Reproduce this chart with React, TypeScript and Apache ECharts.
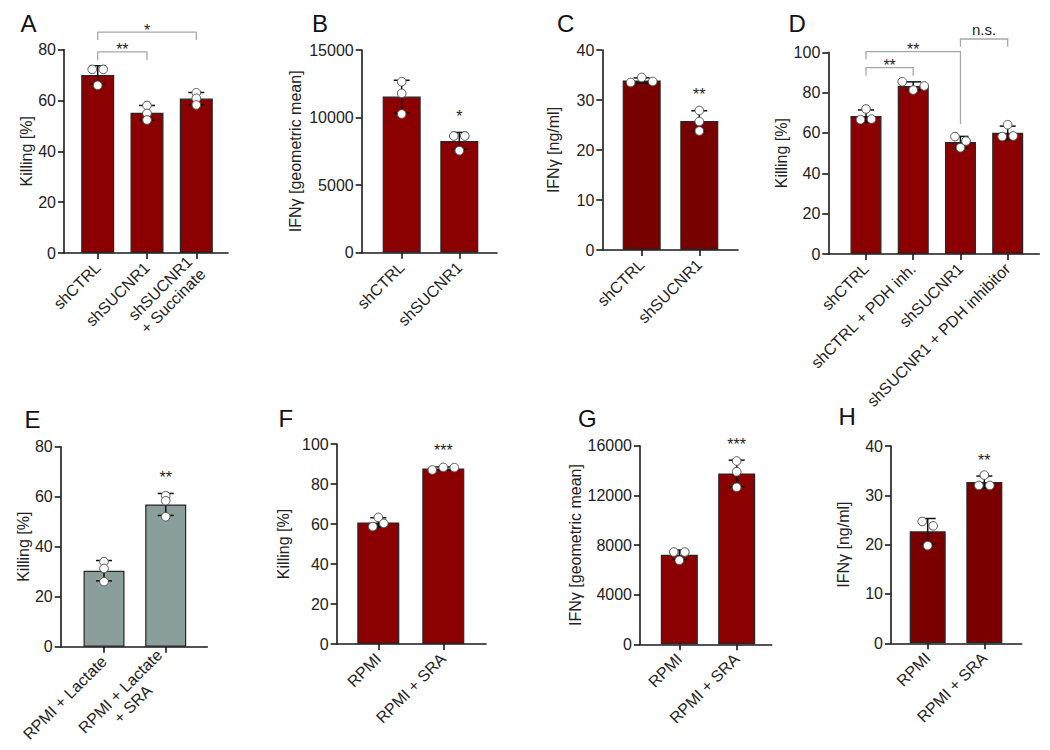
import React, { useEffect, useRef } from "react";
import * as echarts from "echarts";

const FONT = "'Liberation Sans', Arial, Helvetica, sans-serif";

// ---------- Panel A ----------
const categoriesA = ["shCTRL", "shSUCNR1", "shSUCNR1\n+ Succinate"];
const meansA = [70.0, 55.1, 60.7];
const sdsA = [3.6, 2.9, 2.4];
const pointsA = [[72.2, 72.2, 65.9], [58.0, 54.9, 52.3], [63.0, 60.8, 58.2]];
const sigA = ["", "", ""];
const bracketsA = [[0, 1, 79.1, 75.9, 75.9], [0, 2, 86.8, 83.7, 83.7]];
const bracketLabelsA = ["**", "*"];
const yTicksA = [0, 20, 40, 60, 80];

// ---------- Panel B ----------
const categoriesB = ["shCTRL", "shSUCNR1"];
const meansB = [11550, 8270];
const sdsB = [1210, 630];
const pointsB = [[12654, 11795, 10264], [8636, 8636, 7548]];
const sigB = ["", "*"];
const bracketsB: number[][] = [];
const bracketLabelsB: string[] = [];
const yTicksB = [0, 5000, 10000, 15000];

// ---------- Panel C ----------
const categoriesC = ["shCTRL", "shSUCNR1"];
const meansC = [33.9, 25.8];
const sdsC = [0.53, 2.05];
const pointsC = [[33.5, 34.5, 33.7], [27.9, 25.7, 23.8]];
const sigC = ["", "**"];
const bracketsC: number[][] = [];
const bracketLabelsC: string[] = [];
const yTicksC = [0, 10, 20, 30, 40];

// ---------- Panel D ----------
const categoriesD = ["shCTRL", "shCTRL + PDH inh.", "shSUCNR1", "shSUCNR1 + PDH inhibitor"];
const meansD = [68.4, 83.3, 55.5, 60.1];
const sdsD = [3.0, 2.05, 2.8, 3.3];
const pointsD = [[71.9, 66.6, 66.9], [85.4, 81.3, 83.3], [58.2, 56.0, 52.7], [64.1, 58.2, 58.5]];
const sigD = ["", "", "", ""];
const bracketsD = [[0, 1, 92.4, 88.4, 88.4], [0, 2, 100.3, 96.5, 64.5], [2, 3, 106.6, 102.8, 102.8]];
const bracketLabelsD = ["**", "**", "n.s."];
const yTicksD = [0, 20, 40, 60, 80, 100];

// ---------- Panel E ----------
const categoriesE = ["RPMI + Lactate", "RPMI + Lactate\n+ SRA"];
const meansE = [30.4, 56.9];
const sdsE = [4.07, 4.39];
const pointsE = [[34.0, 31.3, 26.0], [60.4, 58.4, 52.0]];
const sigE = ["", "**"];
const bracketsE: number[][] = [];
const bracketLabelsE: string[] = [];
const yTicksE = [0, 20, 40, 60, 80];

// ---------- Panel F ----------
const categoriesF = ["RPMI", "RPMI + SRA"];
const meansF = [60.8, 87.8];
const sdsF = [2.33, 0.72];
const pointsF = [[58.7, 63.3, 60.3], [87.0, 88.3, 88.2]];
const sigF = ["", "***"];
const bracketsF: number[][] = [];
const bracketLabelsF: string[] = [];
const yTicksF = [0, 20, 40, 60, 80, 100];

// ---------- Panel G ----------
const categoriesG = ["RPMI", "RPMI + SRA"];
const meansG = [7210, 13770];
const sdsG = [386, 1066];
const pointsG = [[7436, 7436, 6767], [14767, 13905, 12648]];
const sigG = ["", "***"];
const bracketsG: number[][] = [];
const bracketLabelsG: string[] = [];
const yTicksG = [0, 4000, 8000, 12000, 16000];

// ---------- Panel H ----------
const categoriesH = ["RPMI", "RPMI + SRA"];
const meansH = [22.7, 32.7];
const sdsH = [2.6, 1.21];
const pointsH = [[24.7, 23.8, 19.8], [34.1, 32.0, 32.0]];
const sigH = ["", "**"];
const bracketsH: number[][] = [];
const bracketLabelsH: string[] = [];
const yTicksH = [0, 10, 20, 30, 40];

type PanelData = {
  cats: string[]; means: number[]; sds: number[]; pts: number[][]; sig: string[];
  brackets: number[][]; bracketLabels: string[]; yTicks: number[]; yName: string; letter: string;
};

const panelData: PanelData[] = [
  { cats: categoriesA, means: meansA, sds: sdsA, pts: pointsA, sig: sigA, brackets: bracketsA, bracketLabels: bracketLabelsA, yTicks: yTicksA, yName: "Killing [%]", letter: "A" },
  { cats: categoriesB, means: meansB, sds: sdsB, pts: pointsB, sig: sigB, brackets: bracketsB, bracketLabels: bracketLabelsB, yTicks: yTicksB, yName: "IFNγ [geometric mean]", letter: "B" },
  { cats: categoriesC, means: meansC, sds: sdsC, pts: pointsC, sig: sigC, brackets: bracketsC, bracketLabels: bracketLabelsC, yTicks: yTicksC, yName: "IFNγ [ng/ml]", letter: "C" },
  { cats: categoriesD, means: meansD, sds: sdsD, pts: pointsD, sig: sigD, brackets: bracketsD, bracketLabels: bracketLabelsD, yTicks: yTicksD, yName: "Killing [%]", letter: "D" },
  { cats: categoriesE, means: meansE, sds: sdsE, pts: pointsE, sig: sigE, brackets: bracketsE, bracketLabels: bracketLabelsE, yTicks: yTicksE, yName: "Killing [%]", letter: "E" },
  { cats: categoriesF, means: meansF, sds: sdsF, pts: pointsF, sig: sigF, brackets: bracketsF, bracketLabels: bracketLabelsF, yTicks: yTicksF, yName: "Killing [%]", letter: "F" },
  { cats: categoriesG, means: meansG, sds: sdsG, pts: pointsG, sig: sigG, brackets: bracketsG, bracketLabels: bracketLabelsG, yTicks: yTicksG, yName: "IFNγ [geometric mean]", letter: "G" },
  { cats: categoriesH, means: meansH, sds: sdsH, pts: pointsH, sig: sigH, brackets: bracketsH, bracketLabels: bracketLabelsH, yTicks: yTicksH, yName: "IFNγ [ng/ml]", letter: "H" },
];

// Layout / style per panel (positions in px)
type PanelLayout = {
  left: number; top: number; width: number; height: number; xMin: number; xMax: number;
  barWidth: number; color: string; nameGap: number; letterX: number; letterY: number;
};

const panelLayout: PanelLayout[] = [
  { left: 64, top: 49.5, width: 164, height: 203.5, xMin: -0.684, xMax: 2.643, barWidth: 33, color: "#8b0000", nameGap: 28, letterX: 20.5, letterY: 11.5 },
  { left: 361.7, top: 50, width: 135.3, height: 202.7, xMin: -0.694, xMax: 1.654, barWidth: 38, color: "#8b0000", nameGap: 58.5, letterX: 312, letterY: 11.5 },
  { left: 602.3, top: 50, width: 135.7, height: 200, xMin: -0.684, xMax: 1.672, barWidth: 38, color: "#770000", nameGap: 41, letterX: 557, letterY: 11.5 },
  { left: 828.3, top: 52.3, width: 211, height: 201.7, xMin: -0.798, xMax: 3.669, barWidth: 31, color: "#8b0000", nameGap: 31, letterX: 788.5, letterY: 11.5 },
  { left: 60.7, top: 446.7, width: 146.6, height: 200, xMin: -0.702, xMax: 1.674, barWidth: 41, color: "#8a9e9b", nameGap: 27.5, letterX: 24.5, letterY: 407.5 },
  { left: 336.7, top: 444, width: 149.3, height: 200, xMin: -0.64, xMax: 1.657, barWidth: 42, color: "#8b0000", nameGap: 45, letterX: 278.5, letterY: 406 },
  { left: 640, top: 445.7, width: 131.7, height: 198.6, xMin: -0.685, xMax: 1.61, barWidth: 37, color: "#8b0000", nameGap: 57, letterX: 578, letterY: 406 },
  { left: 891, top: 446, width: 130.7, height: 197.3, xMin: -0.648, xMax: 1.66, barWidth: 36, color: "#7a0000", nameGap: 39.5, letterX: 838.5, letterY: 404 },
];

const AXIS_COLOR = "#1a1a1a";
const TEXT_COLOR = "#222222";
const ROW_THRESH = 4.8;
const POINT_SPACING = 11;

function errorRender(sig: string[]) {
  return (params: any, api: any) => {
    const i = api.value(0);
    const m = api.value(1);
    const s = api.value(2);
    const top = api.coord([i, m + s]);
    const bot = api.coord([i, m - s]);
    const x = top[0];
    const hw = 8;
    const st = { stroke: "#111", lineWidth: 1.5 };
    const children: any[] = [
      { type: "line", shape: { x1: x, y1: top[1], x2: x, y2: bot[1] }, style: st },
      { type: "line", shape: { x1: x - hw, y1: top[1], x2: x + hw, y2: top[1] }, style: st },
      { type: "line", shape: { x1: x - hw, y1: bot[1], x2: x + hw, y2: bot[1] }, style: st },
    ];
    const label = sig[params.dataIndex];
    if (label) {
      children.push({
        type: "text",
        x,
        y: top[1] - 16,
        style: { text: label, fill: TEXT_COLOR, fontSize: 16, fontFamily: FONT, align: "center", verticalAlign: "middle" },
      });
    }
    return { type: "group", children };
  };
}

function pointsRender(pts: number[][]) {
  return (_params: any, api: any) => {
    const cat = api.value(0);
    const j = api.value(2);
    const group = pts[cat];
    const pys = group.map((v) => api.coord([cat, v])[1]);
    const cx = api.coord([cat, 0])[0];
    const order = pys.map((_, k) => k).sort((a, b) => pys[a] - pys[b]);
    const rows: number[][] = [];
    let cur: number[] = [];
    order.forEach((k, n) => {
      if (n > 0 && pys[k] - pys[order[n - 1]] >= ROW_THRESH) {
        rows.push(cur);
        cur = [];
      }
      cur.push(k);
    });
    rows.push(cur);
    const row = rows.find((r) => r.includes(j)) || [j];
    const sorted = [...row].sort((a, b) => a - b);
    const pos = sorted.indexOf(j);
    const dx = (pos - (sorted.length - 1) / 2) * POINT_SPACING;
    return {
      type: "circle",
      shape: { cx: cx + dx, cy: pys[j], r: 4.3 },
      style: { fill: "#ffffff", stroke: "#555555", lineWidth: 1 },
    };
  };
}

function bracketRender(labels: string[]) {
  return (params: any, api: any) => {
    const x1 = api.value(0);
    const x2 = api.value(1);
    const yt = api.value(2);
    const yl = api.value(3);
    const yr = api.value(4);
    const pTL = api.coord([x1, yt]);
    const pTR = api.coord([x2, yt]);
    const pL = api.coord([x1, yl]);
    const pR = api.coord([x2, yr]);
    const label = labels[params.dataIndex];
    const isStar = /^\*+$/.test(label);
    return {
      type: "group",
      children: [
        {
          type: "polyline",
          shape: { points: [pL, pTL, pTR, pR] },
          style: { stroke: "#a8a8a8", lineWidth: 1.3, fill: "none" },
        },
        {
          type: "text",
          x: (pTL[0] + pTR[0]) / 2,
          y: pTL[1] - (isStar ? 2 : 9),
          style: { text: label, fill: TEXT_COLOR, fontSize: isStar ? 16 : 15, fontFamily: FONT, align: "center", verticalAlign: "middle" },
        },
      ],
    };
  };
}

function buildOption() {
  const grid: any[] = [];
  const xAxis: any[] = [];
  const yAxis: any[] = [];
  const series: any[] = [];
  const title: any[] = [];

  panelData.forEach((d, k) => {
    const L = panelLayout[k];
    const catIdx = d.cats.map((_, i) => i);
    const yMax = d.yTicks[d.yTicks.length - 1];
    const yStep = d.yTicks[1] - d.yTicks[0];
    grid.push({ left: L.left, top: L.top, width: L.width, height: L.height, containLabel: false, outerBoundsMode: "none" });
    xAxis.push({
      type: "value",
      gridIndex: k,
      min: L.xMin,
      max: L.xMax,
      axisLine: { show: true, onZero: false, lineStyle: { color: AXIS_COLOR, width: 1.6 } },
      axisTick: { show: true, length: 6, customValues: catIdx, lineStyle: { color: AXIS_COLOR, width: 1.6 } },
      axisLabel: {
        show: true,
        customValues: catIdx,
        formatter: (v: number) => {
          const s = d.cats[Math.round(v)] ?? "";
          return s.split("\n").map((line) => `{c|${line}}`).join("\n");
        },
        rotate: 45,
        fontSize: 16,
        color: TEXT_COLOR,
        fontFamily: FONT,
        margin: 12,
        lineHeight: 18,
        rich: {
          c: { align: "center", fontSize: 16, color: TEXT_COLOR, fontFamily: FONT, lineHeight: 18 },
        },
      },
      splitLine: { show: false },
    });
    yAxis.push({
      type: "value",
      gridIndex: k,
      min: 0,
      max: yMax,
      interval: yStep,
      axisLine: { show: true, onZero: false, lineStyle: { color: AXIS_COLOR, width: 1.6 } },
      axisTick: { show: true, length: 6, lineStyle: { color: AXIS_COLOR, width: 1.6 } },
      axisLabel: { fontSize: 16, color: TEXT_COLOR, fontFamily: FONT, margin: 8, formatter: (v: number) => String(v) },
      splitLine: { show: false },
      name: d.yName,
      nameLocation: "middle",
      nameGap: L.nameGap,
      nameTextStyle: { fontSize: 16, color: TEXT_COLOR, fontFamily: FONT },
    });
    series.push({
      type: "bar",
      xAxisIndex: k,
      yAxisIndex: k,
      data: d.means.map((m, i) => [i, m]),
      barWidth: L.barWidth,
      itemStyle: { color: L.color, borderColor: "#262626", borderWidth: 1.2 },
      z: 2,
    });
    series.push({
      type: "custom",
      xAxisIndex: k,
      yAxisIndex: k,
      data: d.means.map((m, i) => [i, m, d.sds[i]]),
      renderItem: errorRender(d.sig),
      clip: false,
      z: 3,
    });
    series.push({
      type: "custom",
      xAxisIndex: k,
      yAxisIndex: k,
      data: d.pts.flatMap((g, c) => g.map((v, j) => [c, v, j])),
      renderItem: pointsRender(d.pts),
      clip: false,
      z: 4,
    });
    if (d.brackets.length) {
      series.push({
        type: "custom",
        xAxisIndex: k,
        yAxisIndex: k,
        data: d.brackets,
        renderItem: bracketRender(d.bracketLabels),
        clip: false,
        z: 3,
      });
    }
    title.push({
      text: d.letter,
      left: L.letterX,
      top: L.letterY,
      padding: 0,
      textStyle: { fontSize: 24, fontWeight: "normal", color: "#111", fontFamily: FONT },
    });
  });

  return {
    animation: false,
    backgroundColor: "#ffffff",
    title,
    grid,
    xAxis,
    yAxis,
    series,
    tooltip: { show: false },
  };
}

export default function App() {
  const ref = useRef<HTMLDivElement>(null);
  useEffect(() => {
    if (!ref.current) return;
    const chart = echarts.init(ref.current, undefined, { renderer: "svg" });
    chart.setOption(buildOption() as any);
    return () => chart.dispose();
  }, []);
  return (
    <div
      ref={ref}
      style={{ position: "absolute", left: 0, top: 0, width: 1050, height: 750, background: "#fff" }}
    />
  );
}
